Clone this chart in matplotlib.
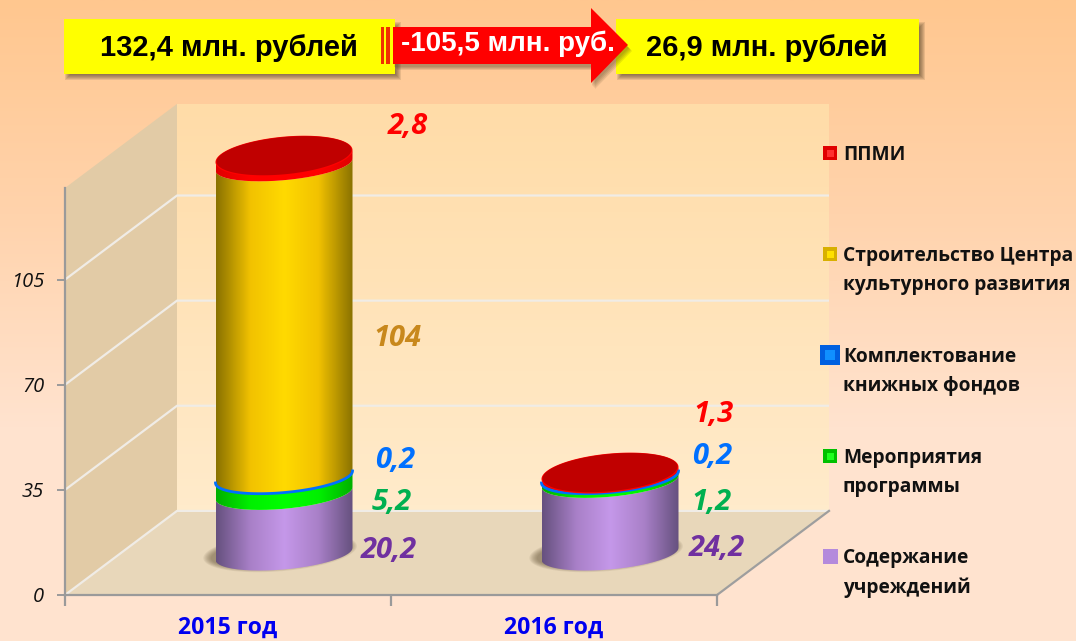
import matplotlib
matplotlib.use('Agg')
import matplotlib.pyplot as plt
import numpy as np
from matplotlib.colors import LinearSegmentedColormap
from matplotlib.path import Path
from matplotlib.patches import PathPatch, Polygon, Rectangle

# данные
years = ['2015 год', '2016 год']
soderzhanie = [20.2, 24.2]
meropriyatiya = [5.2, 1.2]
komplektovanie = [0.2, 0.2]
stroitelstvo = [104, 0]
ppmi = [2.8, 1.3]
yticks = [0, 35, 70, 105]
legend_names = ['ППМИ', 'Строительство Центра\nкультурного развития',
                'Комплектование\nкнижных фондов', 'Мероприятия\nпрограммы',
                'Содержание\nучреждений']
total_left = '132,4 млн. рублей'
total_right = '26,9 млн. рублей'
diff_text = '-105,5 млн. руб.'

series = [soderzhanie, meropriyatiya, komplektovanie, stroitelstvo, ppmi]
ramps = [
    ['#66517F', '#A980C8', '#C598EA', '#A980C8', '#66517F'],
    ['#00B000', '#00F000', '#00FF00', '#00F000', '#00B000'],
    ['#0060E0', '#0070FF', '#0080FF', '#0070FF', '#0060E0'],
    ['#8A7200', '#F2C200', '#FFDA00', '#F2C200', '#8A7200'],
    ['#E00000', '#FF0000', '#FF0000', '#FF0000', '#E00000'],
]
label_colors = ['#7030A0', '#00B050', '#0070FF', '#C8881C', '#FF0000']

plt.rcParams['font.family'] = ['Open Sans', 'DejaVu Sans']
fig = plt.figure(figsize=(10.76, 6.41), dpi=100)
W, H = 1076, 641

# фон
bg = fig.add_axes([0, 0, 1, 1], zorder=0)
bg.axis('off')
bg_cmap = LinearSegmentedColormap.from_list('bg', ['#FFC78F', '#FFD3AC', '#FFE3CF', '#FFE4D0'])
bg.imshow(np.linspace(0, 1, 256).reshape(-1, 1), cmap=bg_cmap, aspect='auto', extent=[0, W, H, 0])
bg.set_xlim(0, W)
bg.set_ylim(H, 0)

# основная ось: левая и нижняя грани
x0, x1, y0, y1 = 65, 717, 595, 188
ax = fig.add_axes([x0 / W, 1 - y0 / H, (x1 - x0) / W, (y0 - y1) / H], zorder=1)
ax.patch.set_alpha(0)
dx = 112 / 326
dy = 84 / 3
xa, xb = -0.5, 1.5
ymax = 135.5

wall_cmap = LinearSegmentedColormap.from_list('wall', ['#FFDCA8', '#FFEBCB'])
wall = ax.imshow(np.linspace(0, 1, 64).reshape(-1, 1), cmap=wall_cmap, aspect='auto', zorder=1,
                 extent=[xa + dx, xb + dx, dy, ymax + dy])
wall.set_clip_box(fig.bbox)
ax.add_patch(Polygon([(xa, 0), (xa + dx, dy), (xa + dx, ymax + dy), (xa, ymax)], closed=True,
                     fc='#E2CBA6', ec='none', zorder=1.5, clip_on=False))
ax.add_patch(Polygon([(xa, 0), (xb, 0), (xb + dx, dy), (xa + dx, dy)], closed=True,
                     fc='#E8D7BA', ec='none', zorder=1.5, clip_on=False))
for v in yticks:
    ax.plot([xa, xa + dx, xb + dx], [v, v + dy, v + dy], color='#F0ECE6', lw=1.6, zorder=2,
            clip_on=False, solid_capstyle='butt')
ax.plot([xb, xb + dx], [0, dy], color='#9E9E9E', lw=1.6, zorder=2.5, clip_on=False)


def arc(cx, level, a, b, tilt, t):
    return cx + a * np.cos(t), level - b * np.sin(t) + tilt * np.cos(t)


a = 68.5 / 326
tilt = 2.0
b_side = 5.2
b_face = 6.2
t_front = np.linspace(np.pi, 0, 80)
t_full = np.linspace(0, 2 * np.pi, 160)
base = dy / 2 - 0.3

for i in range(len(years)):
    cx = i + dx / 2
    # тень
    for k in range(7):
        sx, sy = arc(cx - 0.012, base + 0.6, a * (1.12 - k * 0.018), 6.4 - k * 0.25, tilt, t_full)
        ax.fill(sx, sy, color='#5A4A30', alpha=0.09, lw=0, zorder=3, clip_on=False)
    bottom = 0
    for s, ramp in zip(series, ramps):
        val = s[i]
        if val == 0:
            continue
        lo = base + bottom
        hi = base + bottom + val
        xu, yu = arc(cx, hi, a, b_side, tilt, t_front)
        xl, yl = arc(cx, lo, a, b_side, tilt, t_front)
        verts = np.r_[np.c_[xl, yl], np.c_[xu[::-1], yu[::-1]], [[xl[0], yl[0]]]]
        clip = PathPatch(Path(verts), transform=ax.transData, fc='none', ec='none')
        cmap = LinearSegmentedColormap.from_list('c', list(zip([0, 0.25, 0.5, 0.75, 1], ramp)))
        im = ax.imshow(np.linspace(0, 1, 128).reshape(1, -1), cmap=cmap, aspect='auto', zorder=4,
                       extent=[cx - a, cx + a, lo - 10, hi + 10])
        im.set_clip_box(fig.bbox)
        im.set_clip_path(clip)
        if s is komplektovanie:
            ax.plot(xu, yu, color='#0070FF', lw=2.0, zorder=4.5, clip_on=False)
        bottom += val
    # верхняя крышка
    top_level = base + bottom
    fx, fy = arc(cx, top_level, a, b_face + 0.3, tilt, t_full)
    ax.fill(fx, fy, color='#FF0000', lw=0, zorder=5, clip_on=False)
    fx, fy = arc(cx, top_level + 0.15, a * 0.985, b_face, tilt, t_full)
    ax.fill(fx, fy, color='#C00000', lw=0, zorder=5.5, clip_on=False)

ax.set_xlim(xa, xb)
ax.set_ylim(0, ymax)
for side in ['top', 'right']:
    ax.spines[side].set_visible(False)
for side in ['left', 'bottom']:
    ax.spines[side].set_color('#9A9A9A')
    ax.spines[side].set_linewidth(1.6)
    ax.spines[side].set_zorder(6)
ax.set_yticks(yticks)
ax.set_yticklabels([str(v) for v in yticks], fontsize=14.5, fontstyle='italic', color='#111111')
ax.tick_params(axis='y', length=6, width=1.4, color='#9A9A9A', pad=9)
ax.set_xticks([0, 1])
ax.set_xticklabels(years, fontsize=16.6, fontweight='bold', color='#0000F0')
ax.tick_params(axis='x', which='major', length=0, pad=15)
ax.set_xticks([-0.5, 0.5, 1.5], minor=True)
ax.tick_params(axis='x', which='minor', length=8, width=1.6, color='#9A9A9A')

# верхний слой: плашки, подписи, легенда
top = fig.add_axes([0, 0, 1, 1], zorder=2)
top.axis('off')
top.patch.set_alpha(0)
top.set_xlim(0, W)
top.set_ylim(H, 0)

for bx, bw in [(64, 331), (616, 303)]:
    for k in range(6):
        top.add_patch(Rectangle((bx + 1 + k, 22 + k), bw + 5 - 2 * k, 57 - 2 * k + 1,
                                fc='#4A3A20', ec='none', alpha=0.13, zorder=1))
    top.add_patch(Rectangle((bx, 19), bw, 55, fc='#FFFF00', ec='none', zorder=2))
top.add_patch(Rectangle((381, 27), 2.5, 37, fc='#F03000', ec='none', zorder=3))
top.add_patch(Rectangle((386, 27), 4, 37, fc='#F03000', ec='none', zorder=3))
arrow = np.array([(393, 27), (591, 27), (591, 8), (628, 45), (591, 83), (591, 64), (393, 64)])
for k in range(4):
    top.add_patch(Polygon(arrow + [1 + k, 3 + k], closed=True, fc='#4A3A20', ec='none', alpha=0.12, zorder=2.5))
top.add_patch(Polygon(arrow, closed=True, fc='#FF0000', ec='none', zorder=4))

sans = ['Liberation Sans', 'DejaVu Sans']
top.text(229, 48, total_left, family=sans, fontsize=21, fontweight='bold', ha='center', va='center', color='black', zorder=5)
top.text(767, 48, total_right, family=sans, fontsize=21, fontweight='bold', ha='center', va='center', color='black', zorder=5)
top.text(508, 44, diff_text, family=sans, fontsize=20, fontweight='bold', ha='center', va='center', color='white', zorder=5)

# подписи значений
label_pos = [
    [(389, 551), (392, 502), (395, 460), (397, 339), (408, 127)],
    [(717, 548), (711, 503), (712, 456), None, (713, 415)],
]
for i in range(len(years)):
    for s, col, pos in zip(series, label_colors, label_pos[i]):
        if pos is None:
            continue
        txt = f'{s[i]:g}'.replace('.', ',')
        top.text(pos[0], pos[1], txt, fontsize=21, fontweight='bold', fontstyle='italic', color=col,
                 ha='center', va='center', zorder=5)

# легенда
leg_y = [155, 270.5, 371.5, 472.5, 573]
leg_mark_y = [153, 254, 355, 456, 556]
leg_size = [14, 14, 20, 14, 15]
leg_col = [('#E00000', '#FF3030'), ('#D8B000', '#FFE000'), ('#0060E0', '#1090FF'),
           ('#00C000', '#20FF20'), ('#B48ADC', '#B48ADC')]
for name, ty, my, sz, (c1, c2) in zip(legend_names, leg_y, leg_mark_y, leg_size, leg_col):
    top.add_patch(Rectangle((830 - sz / 2, my - sz / 2), sz, sz, fc=c1, ec='none', zorder=5))
    top.add_patch(Rectangle((830 - sz / 4, my - sz / 4), sz / 2, sz / 2, fc=c2, ec='none', zorder=5))
    top.text(843, ty, name, fontsize=13.8, fontweight='bold', color='#111111', ha='left', va='center',
             linespacing=1.55, zorder=5)

fig.savefig('out.png', dpi=100)
